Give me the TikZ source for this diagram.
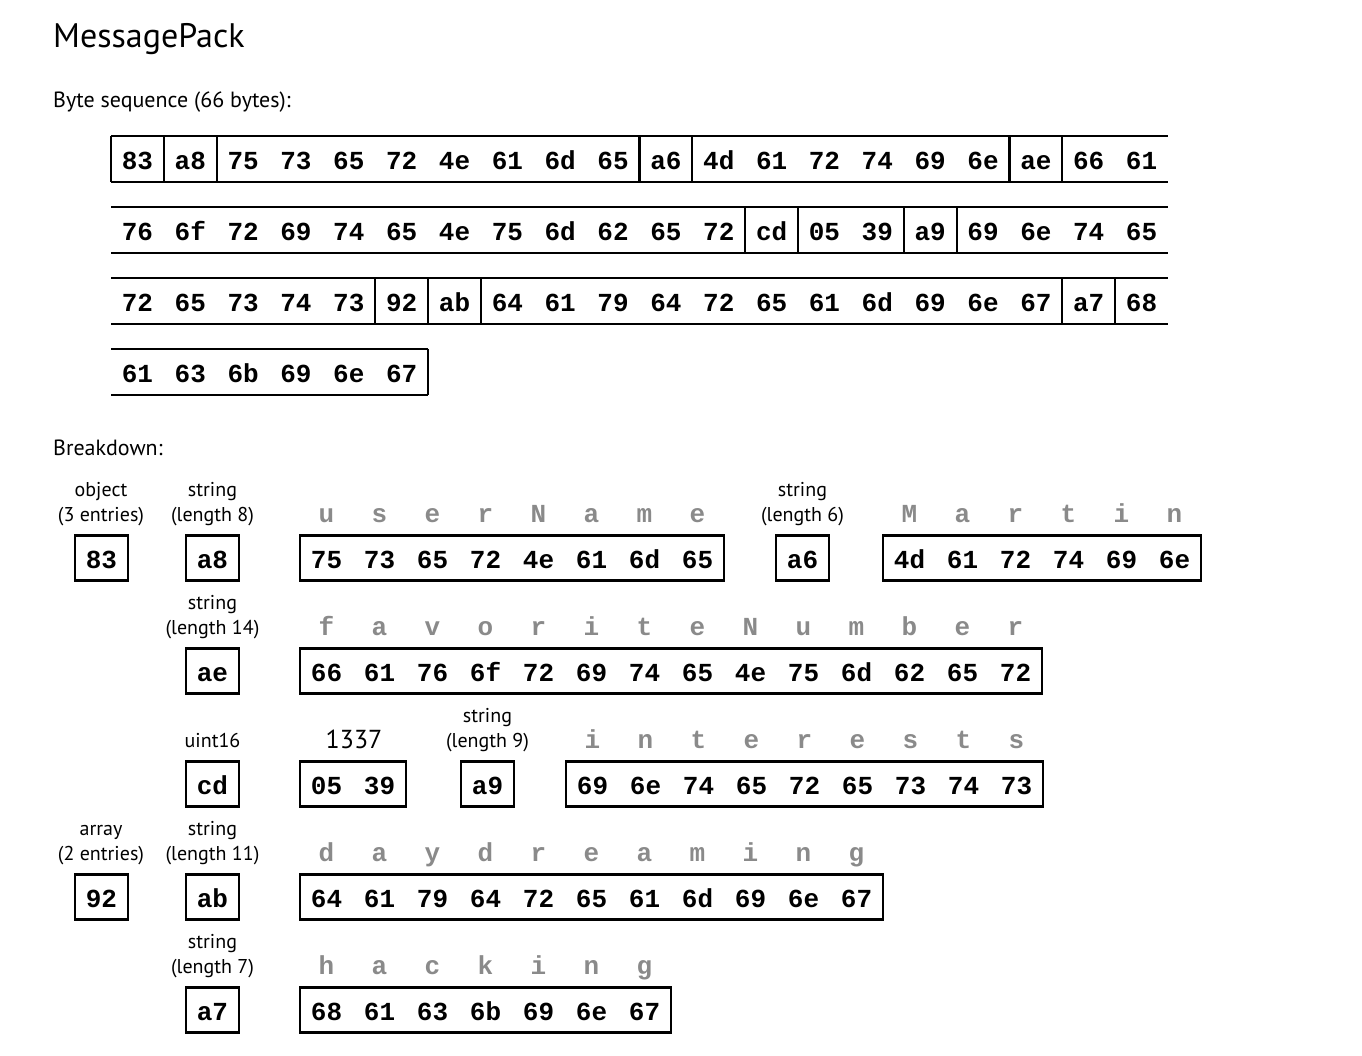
\documentclass[tikz,border=0pt]{standalone}
\usepackage{fontspec}
\setmainfont{PT Sans}
\setmonofont{Liberation Mono}
\newcommand\hexfont{\ttfamily\bfseries\fontsize{26}{26}\selectfont}
\newcommand\lblfont{\fontsize{20}{24}\selectfont}
\definecolor{ltrgray}{HTML}{8A8A8A}
\tikzset{
  hex/.style={font=\hexfont, inner sep=0pt, text height=21pt, text depth=0pt, anchor=center},
  ltr/.style={font=\hexfont, text=ltrgray, inner sep=0pt, anchor=base},
  bx/.style={draw, line width=2.6pt, minimum height=45pt, inner sep=0pt},
  lbl/.style={font=\lblfont, inner sep=0pt, anchor=base},
  seqline/.style={line width=2.6pt},
  sepline/.style={line width=2.2pt},
}
% sequence row: name, y center, list of bytes, separator positions, right end
\newcommand\seqrow[5]{%
  \foreach \b [count=\i] in {#3} {\node[hex] (#1-\i) at ({111+52.85*(\i-0.5)},#2) {\b};}
  \draw[seqline] (111,{#2-23}) -- (#5,{#2-23});
  \draw[seqline] (111,{#2+23}) -- (#5,{#2+23});
  \foreach \s in {#4} {\draw[sepline] ({111+52.85*\s},{#2-23}) -- ({111+52.85*\s},{#2+23});}
}
% breakdown box: name, left x, center y, n, list
\newcommand\bbox[5]{%
  \node[bx, minimum width={#4*53pt}] (#1) at ({#2+26.5*#4},#3) {};
  \foreach \b [count=\i] in {#5} {\node[hex] (#1-\i) at ({#2+53*(\i-0.5)},#3) {\b};}
}
% letters: name, left x, box center y, list
\newcommand\ltrs[4]{%
  \foreach \l [count=\i] in {#4} {\node[ltr] (#1-\i) at ({#2+53*(\i-0.5)},{#3-36}) {\l};}
}
% two-line label: name, x, box center y, line1, line2
\newcommand\lab[5]{%
  \node[lbl] (#1-a) at (#2,{#3-62}) {#4};
  \node[lbl] (#1-b) at (#2,{#3-37}) {#5};
}
\begin{document}
\begin{tikzpicture}[x=1pt,y=-1pt]
\useasboundingbox (0,0) rectangle (1362,1056);
\node[anchor=base west, inner sep=0pt, font=\fontsize{34}{34}\selectfont] (title) at (53,48) {MessagePack};
\node[anchor=base west, inner sep=0pt, font=\fontsize{22}{22}\selectfont] (seqtitle) at (53,108) {Byte sequence (66 bytes):};
\node[anchor=base west, inner sep=0pt, font=\fontsize{22}{22}\selectfont] (bdtitle) at (53,455) {Breakdown:};

\seqrow{r1}{159}{83,a8,75,73,65,72,4e,61,6d,65,a6,4d,61,72,74,69,6e,ae,66,61}{0,1,2,10,11,17,18}{1168}
\seqrow{r2}{230}{76,6f,72,69,74,65,4e,75,6d,62,65,72,cd,05,39,a9,69,6e,74,65}{12,13,15,16}{1168}
\seqrow{r3}{301}{72,65,73,74,73,92,ab,64,61,79,64,72,65,61,6d,69,6e,67,a7,68}{5,6,7,18,19}{1168}
\seqrow{r4}{372}{61,63,6b,69,6e,67}{6}{428.1}

% Row A
\lab{lobj}{101}{558}{object}{(3 entries)}
\bbox{b83}{75}{558}{1}{83}
\lab{la8}{212.5}{558}{string}{(length 8)}
\bbox{ba8}{186}{558}{1}{a8}
\ltrs{tuser}{300}{558}{u,s,e,r,N,a,m,e}
\bbox{kuser}{300}{558}{8}{75,73,65,72,4e,61,6d,65}
\lab{la6}{802.5}{558}{string}{(length 6)}
\bbox{ba6}{776}{558}{1}{a6}
\ltrs{tmartin}{883}{558}{M,a,r,t,i,n}
\bbox{vmartin}{883}{558}{6}{4d,61,72,74,69,6e}

% Row B
\lab{lae}{212.5}{671}{string}{(length 14)}
\bbox{bae}{186}{671}{1}{ae}
\ltrs{tfav}{300}{671}{f,a,v,o,r,i,t,e,N,u,m,b,e,r}
\bbox{kfav}{300}{671}{14}{66,61,76,6f,72,69,74,65,4e,75,6d,62,65,72}

% Row C
\node[lbl] (lcd) at (212.5,747) {uint16};
\bbox{bcd}{186}{784}{1}{cd}
\node[lbl, font=\fontsize{26}{26}\selectfont] (l1337) at (354,748) {1337};
\bbox{v1337}{300}{784}{2}{05,39}
\lab{la9}{487.5}{784}{string}{(length 9)}
\bbox{ba9}{461}{784}{1}{a9}
\ltrs{tint}{566}{784}{i,n,t,e,r,e,s,t,s}
\bbox{kint}{566}{784}{9}{69,6e,74,65,72,65,73,74,73}

% Row D
\lab{larr}{101}{897}{array}{(2 entries)}
\bbox{b92}{75}{897}{1}{92}
\lab{lab}{212.5}{897}{string}{(length 11)}
\bbox{bab}{186}{897}{1}{ab}
\ltrs{tday}{300}{897}{d,a,y,d,r,e,a,m,i,n,g}
\bbox{vday}{300}{897}{11}{64,61,79,64,72,65,61,6d,69,6e,67}

% Row E
\lab{la7}{212.5}{1010}{string}{(length 7)}
\bbox{ba7}{186}{1010}{1}{a7}
\ltrs{thack}{300}{1010}{h,a,c,k,i,n,g}
\bbox{vhack}{300}{1010}{7}{68,61,63,6b,69,6e,67}
\end{tikzpicture}
\end{document}
